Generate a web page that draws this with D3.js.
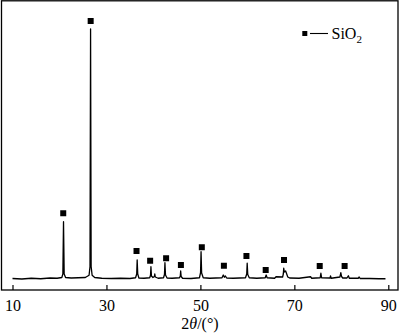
<!DOCTYPE html>
<html><head><meta charset="utf-8">
<script src="https://cdn.jsdelivr.net/npm/d3@7"></script>
<style>body{margin:0;background:#fff}svg{display:block}text{font-family:"Liberation Serif","DejaVu Serif",serif;fill:#000}</style>
</head><body>
<svg id="c" width="400" height="334"></svg>
<script>
// XRD trace vertices
const twoTheta = [10,12,14,16,18,19.5,20.5,20.72,20.86,21.0,21.3,22.5,24,25.5,26.3,26.5,26.62,26.74,26.95,27.5,29,31,33,35,
36.2,36.44,36.54,36.66,36.9,38,39.2,39.38,39.47,39.58,39.9,40.2,40.29,40.4,41,42.15,42.35,42.45,42.57,42.9,44,45.55,45.72,45.8,45.9,46.2,48,
49.8,50.03,50.14,50.26,50.6,52,54.6,54.87,55.1,55.32,55.6,57,59.6,59.86,59.96,60.08,60.4,62,63.8,64.0,64.2,65.8,66.1,67.5,67.65,67.74,67.86,68.14,68.3,68.6,69,71,
73.45,73.7,75.5,75.65,75.8,77.6,77.7,77.85,79.7,79.9,80.05,80.3,81.2,81.5,81.7,83.6,83.8,84,86,88,89.4];
const intensity = [0.2,0.0,0.3,0.1,0.4,0.3,0.6,2.0,22.9,2.0,0.6,0.4,0.5,0.6,1.5,5,100,5,1.5,0.6,0.3,0.2,0.3,0.2,
0.5,2,7.6,2,0.4,0.3,0.5,1.5,4.9,1.2,0.6,1.0,2.0,0.8,0.3,0.5,1.8,6.5,1.6,0.4,0.3,0.5,1.2,3.2,1.0,0.3,0.2,
0.5,2.5,10.9,2.4,0.5,0.3,0.5,1.6,0.7,1.2,0.4,0.3,0.5,2,6.3,1.8,0.5,0.3,0.5,1.6,0.5,0.3,0.9,0.8,2,4.3,2.8,3.2,2.4,0.8,0.4,0.3,
0.9,0.3,0.5,2.3,0.5,0.4,1.2,0.3,0.8,2.5,1.0,0.4,0.4,1.3,0.3,0.3,0.8,0.2,0.2,0.1,0.1];
// SiO2 peak markers
const markerTheta = [20.8,26.64,36.4,39.3,42.7,45.85,50.3,55.0,59.8,63.9,67.8,75.4,80.7];
const markerI = [26.3,103.2,11.2,7.3,8.3,5.6,12.7,5.3,9.2,3.6,7.6,5.2,5.2];
const xTicks = [10,30,50,70,90];
const xTitle = "2θ/(°)";
const legendLabel = "SiO";
const legendSub = "2";

const FONT = "'Liberation Serif','DejaVu Serif',serif";
const svg = d3.select("#c");
const x = d3.scaleLinear().domain([10,90]).range([12.5,388.3]);
const y = d3.scaleLinear().domain([0,100]).range([279,29]);

// frame
svg.append("rect").attr("x",1.5).attr("y",0.8).attr("width",396.5).attr("height",289.2)
  .attr("fill","none").attr("stroke","#000").attr("stroke-width",1.3);

// x axis
const ax = svg.append("g").attr("transform","translate(0,290)")
  .call(d3.axisBottom(x).tickValues(xTicks).tickFormat(d3.format("d")).tickSizeInner(-5).tickSizeOuter(0));
ax.attr("font-family",FONT).attr("font-size",16);
ax.select(".domain").remove();
ax.selectAll(".tick line").attr("stroke","#000").attr("stroke-width",1.2);
ax.selectAll(".tick text").attr("y",20.5).attr("dy",null).attr("font-size",16)
  .attr("font-family",FONT).style("font-family",FONT).attr("fill","#000");

// title
const t = svg.append("text").attr("x",200).attr("y",328.5).attr("text-anchor","middle").attr("font-size",16)
  .style("font-family",FONT);
t.append("tspan").text(xTitle[0]);
t.append("tspan").attr("font-style","italic").text(xTitle[1]);
t.append("tspan").text(xTitle.slice(2));

// trace
const pts = twoTheta.map((d,i)=>[d,intensity[i]]);
svg.append("path").datum(pts)
  .attr("d", d3.line().x(d=>x(d[0])).y(d=>y(d[1])))
  .attr("fill","none").attr("stroke","#000").attr("stroke-width",1.3).attr("stroke-linejoin","round");

// markers
svg.selectAll("rect.m").data(markerTheta).enter().append("rect").attr("class","m")
  .attr("x",(d)=>x(d)-3).attr("y",(d,i)=>y(markerI[i])-3).attr("width",6).attr("height",6).attr("fill","#000");

// legend
svg.append("rect").attr("x",302.3).attr("y",31).attr("width",5).attr("height",5).attr("fill","#000");
svg.append("line").attr("x1",310).attr("x2",328).attr("y1",33.5).attr("y2",33.5).attr("stroke","#000").attr("stroke-width",1.1);
const lt = svg.append("text").attr("x",331.5).attr("y",38.5).attr("font-size",16).style("font-family",FONT);
lt.append("tspan").text(legendLabel);
lt.append("tspan").attr("font-size",11).attr("dy",4).text(legendSub);
</script>
</body></html>
